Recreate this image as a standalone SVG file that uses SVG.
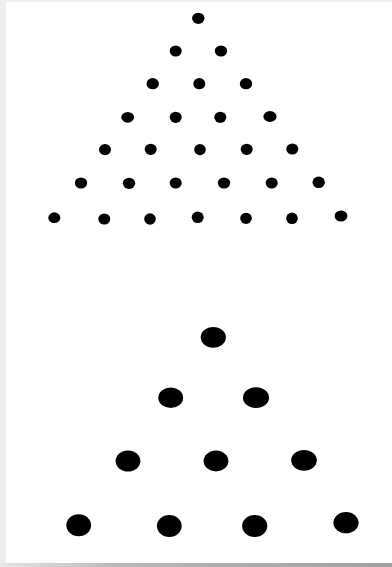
<svg xmlns="http://www.w3.org/2000/svg" width="392" height="567" viewBox="0 0 392 567">
<defs>
<linearGradient id="bot" x1="0" y1="0" x2="1" y2="0">
<stop offset="0" stop-color="#e6e6e6"/>
<stop offset="0.3" stop-color="#b8b8b8"/>
<stop offset="1" stop-color="#a0a0a0"/>
</linearGradient>
<style>
.s{fill:#000}
.b{fill:#000}
</style>
</defs>
<rect x="0" y="0" width="392" height="567" fill="#ffffff"/>
<rect x="0" y="0" width="392" height="1.5" fill="#eeeeee"/>
<rect x="0" y="0" width="6" height="567" fill="#efefef"/>
<rect x="0" y="563" width="392" height="4" fill="url(#bot)"/>
<g id="small-triangle">
<ellipse class="s" cx="198.3" cy="18.3" rx="6.2" ry="5.6"/>
<ellipse class="s" cx="175.7" cy="51" rx="6" ry="5.6"/>
<ellipse class="s" cx="221" cy="51" rx="6.2" ry="5.6"/>
<ellipse class="s" cx="152.7" cy="83.7" rx="6.2" ry="5.6"/>
<ellipse class="s" cx="199.3" cy="83.7" rx="6" ry="5.6"/>
<ellipse class="s" cx="246" cy="83.7" rx="6.2" ry="5.6"/>
<ellipse class="s" cx="127.7" cy="117.3" rx="6.4" ry="5.4"/>
<ellipse class="s" cx="175.7" cy="117.3" rx="6" ry="5.6"/>
<ellipse class="s" cx="220.3" cy="117.3" rx="6" ry="5.6"/>
<ellipse class="s" cx="270" cy="116.5" rx="6.6" ry="5.4"/>
<ellipse class="s" cx="105" cy="149.6" rx="6" ry="5.6"/>
<ellipse class="s" cx="150.7" cy="149.3" rx="6" ry="5.6"/>
<ellipse class="s" cx="200" cy="149.6" rx="5.8" ry="5.6"/>
<ellipse class="s" cx="246.7" cy="149.3" rx="6" ry="5.6"/>
<ellipse class="s" cx="292.3" cy="149" rx="6" ry="5.6"/>
<ellipse class="s" cx="81" cy="183" rx="6.2" ry="5.6"/>
<ellipse class="s" cx="129" cy="183.3" rx="6.2" ry="5.6"/>
<ellipse class="s" cx="175.7" cy="183" rx="6" ry="5.6"/>
<ellipse class="s" cx="224" cy="183" rx="6.2" ry="5.6"/>
<ellipse class="s" cx="271.7" cy="183" rx="6" ry="5.6"/>
<ellipse class="s" cx="318.7" cy="182.3" rx="6.2" ry="5.8"/>
<ellipse class="s" cx="54.3" cy="217.7" rx="6" ry="5.4"/>
<ellipse class="s" cx="104.3" cy="219" rx="6" ry="5.6"/>
<ellipse class="s" cx="150" cy="219" rx="5.8" ry="5.8"/>
<ellipse class="s" cx="197.7" cy="217.3" rx="6" ry="5.8"/>
<ellipse class="s" cx="246" cy="218.3" rx="5.8" ry="5.6"/>
<ellipse class="s" cx="292" cy="218.3" rx="5.8" ry="5.8"/>
<ellipse class="s" cx="341" cy="216" rx="6.4" ry="5.6"/>
</g>
<g id="large-triangle">
<ellipse class="b" cx="213.3" cy="337.3" rx="12.6" ry="10.4"/>
<ellipse class="b" cx="170.7" cy="397.7" rx="12.4" ry="10.2"/>
<ellipse class="b" cx="256" cy="397.7" rx="13" ry="10.4"/>
<ellipse class="b" cx="128" cy="461" rx="12.4" ry="10.6"/>
<ellipse class="b" cx="216" cy="461" rx="12.4" ry="10.4"/>
<ellipse class="b" cx="304" cy="460.3" rx="12.8" ry="10.4"/>
<ellipse class="b" cx="78.7" cy="525.3" rx="12.4" ry="11"/>
<ellipse class="b" cx="169.3" cy="526" rx="12.4" ry="11"/>
<ellipse class="b" cx="254.7" cy="526" rx="12.6" ry="11"/>
<ellipse class="b" cx="346" cy="522.7" rx="12.6" ry="10.6"/>
</g>
<g id="connectors"/>
</svg>
